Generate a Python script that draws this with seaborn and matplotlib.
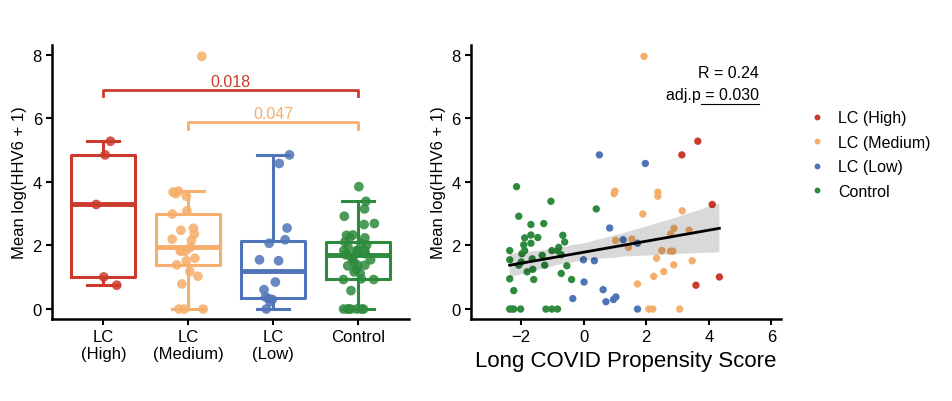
import numpy as np
import pandas as pd
import matplotlib
matplotlib.use("Agg")
import matplotlib.pyplot as plt
import seaborn as sns

groups = ["LC (High)", "LC (Medium)", "LC (Low)", "Control"]
tick_labels = ["LC\n(High)", "LC\n(Medium)", "LC\n(Low)", "Control"]
palette = {"LC (High)": "#CB3A2C", "LC (Medium)": "#F5AE6B", "LC (Low)": "#4F74B7", "Control": "#2E8A3C"}

high_score = [3.14, 3.65, 4.11, 4.34, 3.59]
high_val = [4.85, 5.28, 3.29, 1.01, 0.75]
low_score = [0.50, 1.97, 0.83, 1.26, 1.72, -0.01, 0.34, 0.01, -0.35, 0.62, 0.71, 0.95, 1.03, 1.72]
low_val = [4.85, 4.58, 2.55, 2.18, 2.07, 1.55, 1.52, 0.85, 0.33, 0.61, 0.23, 0.30, 0.38, 0.0]
med_score = [1.93, 0.97, 1.00, 2.37, 2.37, 1.89, 3.15, 2.89, 3.37, 2.78, 1.02, 1.54, 1.43, 2.50,
             2.78, 2.85, 2.33, 3.47, 2.88, 2.56, 2.24, 1.72, 2.08, 2.21, 3.07]
med_val = [7.95, 3.63, 3.71, 3.68, 3.55, 2.99, 3.09, 2.54, 2.48, 2.36, 2.16, 2.20, 1.94, 1.84,
           1.82, 1.82, 1.60, 1.52, 1.39, 1.18, 1.03, 0.79, 0.0, 0.0, 0.0]
ctrl_score = [-2.37, -2.37, -2.37, -2.24, -2.37, -2.30, -2.24, -2.02, -2.15, -2.08, -2.08, -2.00,
              -1.98, -1.92, -1.89, -1.89, -1.81, -1.69, -1.69, -1.69, -1.65, -1.63, -1.60, -1.47,
              -1.28, -1.33, -1.25, -1.21, -1.05, -1.02, -1.02, -0.84, -0.84, -0.80, -0.67, -0.61,
              -0.72, -0.72, -0.54, -0.39, 0.40]
ctrl_val = [1.84, 1.55, 0.95, 0.58, 0.0, 0.0, 0.0, 0.0, 3.85, 2.92, 1.38, 1.48,
            1.74, 2.02, 2.24, 1.84, 1.17, 2.66, 2.33, 2.07, 1.58, 1.25, 0.93, 2.25,
            2.69, 1.69, 1.38, 0.0, 3.39, 1.84, 0.0, 0.0, 1.84, 1.94, 2.32, 2.11,
            1.71, 1.12, 1.36, 0.93, 3.15]

frames = []
for g, s, v in [("LC (High)", high_score, high_val), ("LC (Medium)", med_score, med_val),
                ("LC (Low)", low_score, low_val), ("Control", ctrl_score, ctrl_val)]:
    frames.append(pd.DataFrame({"group": g, "score": s, "value": v}))
df = pd.concat(frames, ignore_index=True)

plt.rcParams["font.family"] = ["Liberation Sans", "DejaVu Sans"]
fig = plt.figure(figsize=(9.52, 4.02), dpi=100)
ax1 = fig.add_axes([0.055, 0.205, 0.375, 0.68])
ax2 = fig.add_axes([0.495, 0.205, 0.325, 0.68])

np.random.seed(3)
sns.boxplot(data=df, x="group", y="value", order=groups, hue="group", palette=palette,
            fill=False, linewidth=2.2, showfliers=False, width=0.75, ax=ax1, legend=False,
            medianprops=dict(linewidth=3.5))
sns.stripplot(data=df, x="group", y="value", order=groups, hue="group", palette=palette,
              jitter=0.2, size=7, alpha=0.85, ax=ax1, legend=False)
ax1.set_xticks(range(4))
ax1.set_xticklabels(tick_labels, fontsize=12)
ax1.set_xlabel("")
ax1.set_ylabel("Mean log(HHV6 + 1)", fontsize=12)
ax1.set_ylim(-0.3, 8.3)
ax1.set_xlim(-0.6, 3.6)
ax1.set_yticks([0, 2, 4, 6, 8])
ax1.tick_params(labelsize=12, width=1.5, length=4)
for sp in ["top", "right"]:
    ax1.spines[sp].set_visible(False)
for sp in ["left", "bottom"]:
    ax1.spines[sp].set_linewidth(1.8)
ax1.plot([0, 0, 3, 3], [6.7, 6.9, 6.9, 6.7], color=palette["LC (High)"], lw=2)
ax1.text(1.5, 6.92, "0.018", color=palette["LC (High)"], ha="center", va="bottom", fontsize=11.5)
ax1.plot([1, 1, 3, 3], [5.65, 5.9, 5.9, 5.65], color=palette["LC (Medium)"], lw=2)
ax1.text(2, 5.92, "0.047", color=palette["LC (Medium)"], ha="center", va="bottom", fontsize=11.5)

sns.scatterplot(data=df, x="score", y="value", hue="group", hue_order=groups, palette=palette,
                s=28, edgecolor="none", ax=ax2)
sns.regplot(data=df, x="score", y="value", scatter=False, ax=ax2, seed=0,
            line_kws=dict(color="black", lw=2), color="#999999")
ax2.set_xlim(-3.6, 6.3)
ax2.set_ylim(-0.3, 8.3)
ax2.set_xticks([-2, 0, 2, 4, 6])
ax2.set_yticks([0, 2, 4, 6, 8])
ax2.tick_params(labelsize=12, width=1.5, length=4)
ax2.set_xlabel("Long COVID Propensity Score", fontsize=16)
ax2.set_ylabel("Mean log(HHV6 + 1)", fontsize=12)
for sp in ["top", "right"]:
    ax2.spines[sp].set_visible(False)
for sp in ["left", "bottom"]:
    ax2.spines[sp].set_linewidth(1.8)
ax2.text(5.6, 7.45, "R = 0.24", ha="right", va="center", fontsize=11.5)
ax2.text(5.6, 6.75, "adj.p = 0.030", ha="right", va="center", fontsize=11.5)
ax2.plot([3.75, 5.6], [6.45, 6.45], color="black", lw=0.8)
h, l = ax2.get_legend_handles_labels()
ax2.legend(h[:4], l[:4], loc="center left", bbox_to_anchor=(1.02, 0.6), frameon=False,
           fontsize=11.5, markerscale=0.8, handletextpad=0.3, labelspacing=0.6)

fig.savefig("out.png", dpi=100)
